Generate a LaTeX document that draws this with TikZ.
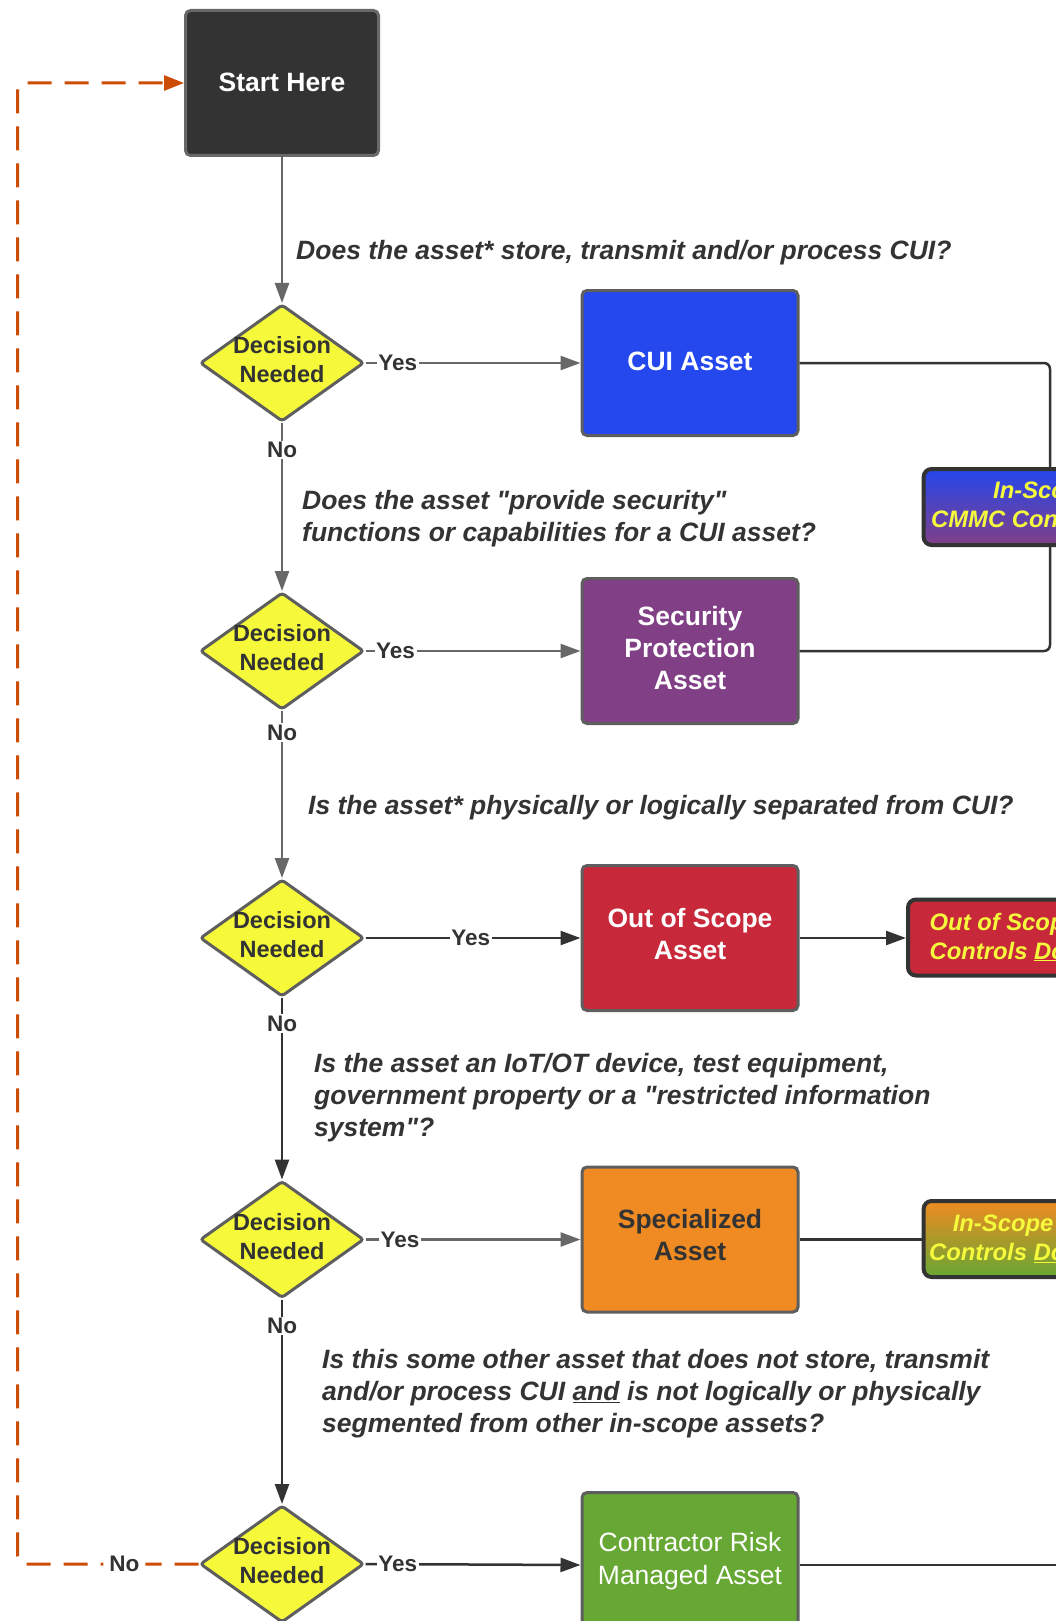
\documentclass[tikz,border=0pt]{standalone}
\usepackage{fontspec}
\setmainfont{Liberation Sans}
\usepackage{xcolor}
\usepackage{tikz}
\usetikzlibrary{positioning,shapes.geometric,arrows.meta}

\definecolor{inkdark}{HTML}{333333}
\definecolor{edgegray}{HTML}{5E5E5E}
\definecolor{linegray}{HTML}{686868}
\definecolor{decideyellow}{HTML}{F5F93A}
\definecolor{cuiblue}{HTML}{2447EE}
\definecolor{spapurple}{HTML}{813F86}
\definecolor{oosred}{HTML}{C8293A}
\definecolor{specorange}{HTML}{EF8B22}
\definecolor{crmgreen}{HTML}{67A733}
\definecolor{loopred}{HTML}{CC4C06}
\definecolor{ctlyellow}{HTML}{F6FA3C}

\begin{document}
\begin{tikzpicture}[x=1pt,y=-1pt,
	assetbox/.style={draw=edgegray,line width=3pt,rounded corners=5pt,minimum width=216pt,minimum height=145pt,inner sep=0pt,align=center,text=white,text depth=9pt,font=\fontsize{26.5}{32}\selectfont\bfseries},
	decide/.style={diamond,draw=edgegray,fill=decideyellow,line width=3pt,rounded corners=3pt,minimum width=164pt,minimum height=117pt,inner sep=0pt,
		label={[align=center,yshift=3pt,text=inkdark,font=\fontsize{23.5}{29}\selectfont\bfseries]center:Decision\\Needed}},
	question/.style={anchor=west,align=left,inner sep=0pt,text=inkdark,font=\fontsize{26.5}{32}\selectfont\bfseries\itshape},
	yn/.style={fill=white,inner sep=1.5pt,text=inkdark,font=\fontsize{22.5}{26}\selectfont\bfseries},
	link/.style={draw=linegray,line width=2.5pt,-{Triangle[length=20pt,width=14pt]}},
	darklink/.style={draw=inkdark,line width=2.5pt,-{Triangle[length=20pt,width=14pt]}},
	darkline/.style={draw=inkdark,line width=2.5pt},
	ctlbox/.style={draw=inkdark,line width=4pt,rounded corners=8pt,minimum width=260pt,minimum height=76pt},
	ctltext/.style={anchor=west,align=left,inner sep=0pt,text=ctlyellow,font=\fontsize{23.8}{29}\selectfont\bfseries\itshape}]
	\useasboundingbox (0,0) rectangle (1056,1621);
	\clip (0,0) rectangle (1056,1621);

	\node[assetbox,fill=inkdark,draw=linegray,minimum width=193pt,text depth=2pt] (start) at (282,83) {Start Here};
	\node[decide] (d1) at (282,363) {};
	\node[decide] (d2) at (282,651) {};
	\node[decide] (d3) at (282,938) {};
	\node[decide] (d4) at (282,1239.5) {};
	\node[decide] (d5) at (282,1564) {};

	\node[assetbox,fill=cuiblue,text depth=4pt] (cui) at (690,363) {CUI Asset};
	\node[assetbox,fill=spapurple,text depth=6pt] (spa) at (690,651) {Security\\Protection\\Asset};
	\node[assetbox,fill=oosred] (oos) at (690,938) {Out of Scope\\Asset};
	\node[assetbox,fill=specorange,text=inkdark] (spec) at (690,1239.5) {Specialized\\Asset};
	\node[assetbox,fill=crmgreen,text depth=13pt,font=\fontsize{26.5}{33}\selectfont] (crm) at (690,1565) {Contractor Risk\\Managed Asset};

	\node[question] (q1) at (296,253) {Does the asset* store, transmit and/or process CUI?};
	\node[question] (q2) at (302,519) {Does the asset \textquotedbl provide security\textquotedbl\\functions or capabilities for a CUI asset?};
	\node[question] (q3) at (308,808) {Is the asset* physically or logically separated from CUI?};
	\node[question] (q4) at (314,1098) {Is the asset an IoT/OT device, test equipment,\\government property or a \textquotedbl restricted information\\system\textquotedbl?};
	\node[question] (q5) at (322,1394) {Is this some other asset that does not store, transmit\\and/or process CUI \underline{and} is not logically or physically\\segmented from other in-scope assets?};

	\draw[link] (start) -- (d1);
	\draw[link] (d1) -- node[yn,pos=0.16] {No} (d2);
	\draw[link] (d2) -- node[yn,pos=0.13] {No} (d3);
	\draw[darklink] (d3) -- node[yn,pos=0.14] {No} (d4);
	\draw[darklink] (d4) -- node[yn,pos=0.13] {No} (d5);

	\draw[link] (d1.east) -- node[yn,pos=0.15] {Yes} (cui.west);
	\draw[link] (d2.east) -- node[yn,pos=0.14] {Yes} (spa.west);
	\draw[darklink] (d3.east) -- node[yn,pos=0.49] {Yes} (oos.west);
	\draw[link] (d4.east) -- node[yn,pos=0.16] {Yes} (spec.west);
	\draw[darklink] (d5.east) -- node[yn,pos=0.15] {Yes} (crm.west);

	\draw[loopred,line width=3pt,dash pattern=on 24pt off 13pt,rounded corners=8pt,-{Triangle[length=20pt,width=15pt]}]
		(d5.west) -- node[yn,inner xsep=6pt,pos=0.41] {No} (17.6,1564) |- (start.west);

	\coordinate (rail) at (1050,507);
	\coordinate (crmend) at (1060,1565);
	\draw[darkline,rounded corners=6pt] (cui.east) -| (rail) |- (spa.east);
	\draw[darkline] (crm.east) -- (crmend);

	\node[ctlbox,top color=cuiblue,bottom color=spapurple] (inscope) at (1053.6,507) {};
	\node[ctltext] (inscopetxt) at (931,504.5) {\hspace*{62pt}In-Scope\\CMMC Controls};
	\node[ctlbox,fill=oosred] (outctl) at (1038,937.5) {};
	\node[ctltext] (outctltxt) at (929.5,937) {Out of Scope\\Controls \underline{Do}};
	\node[ctlbox,top color=specorange,bottom color=crmgreen] (spectl) at (1053.6,1239) {};
	\node[ctltext] (spectltxt) at (929,1238.5) {\hspace*{23.6pt}In-Scope\\Controls \underline{Do}};

	\draw[darklink] (oos.east) -- (oos.east -| outctl.west);
	\draw[darkline] (spec.east) -- (spec.east -| spectl.west);
\end{tikzpicture}
\end{document}
